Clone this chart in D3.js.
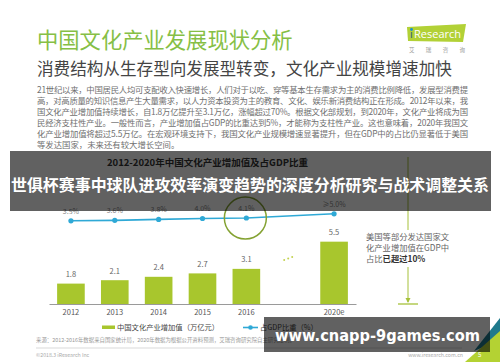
<!DOCTYPE html>
<html>
<head>
<meta charset="utf-8">
<script src="https://cdn.jsdelivr.net/npm/d3@7"></script>
<style>
  body { margin: 0; background: #fff; }
  svg { display: block; font-family: "Noto Sans CJK SC", "Noto Sans", sans-serif; }
</style>
</head>
<body>
<svg id="chart" width="500" height="362"></svg>
<script>

const years       = ['2012', '2013', '2014', '2015', '2016', '2020e'];
const gapSlot     = '…';
const addedValue  = [1.8, 2.1, 2.4, 2.7, 3.1, 5.5];
const gdpShare    = [3.5, 3.6, 3.8, 4.0, 4.1, 5.0];
const gdpLabels   = ['3.5%', '3.6%', '3.8%', '4.0%', '4.1%', '≥5.0%'];

const pageTitle   = '中国文化产业发展现状分析';
const pageSub     = '消费结构从生存型向发展型转变，文化产业规模增速加快';
const paragraph   = [
  '21世纪以来，中国居民人均可支配收入快速增长，人们对于以吃、穿等基本生存需求为主的消费比例降低，发展型消费提',
  '高，对高质量的知识信息产生大量需求，以人力资本投资为主的教育、文化、娱乐新消费结构正在形成。2012年以来，我',
  '国文化产业增加值持续增长，自1.8万亿提升至3.1万亿，涨幅超过70%。根据文化部规划，到2020年，文化产业将成为国',
  '民经济支柱性产业。一般性而言，产业增加值占GDP的比重达到5%，才能称为支柱性产业。这也意味着，2020年我国文',
  '化产业增加值将超过5.5万亿。在宏观环境支持下，我国文化产业规模增速显著提升，但在GDP中的占比仍显著低于美国',
  '等发达国家，未来还有较大增长空间。'
];
const chartTitle  = '2012-2020年中国文化产业增加值及占GDP比重';
const noteLines   = ['美国等部分发达国家文', '化产业增加值在GDP中', '占比'];
const noteBold    = '已超过10%';
const legendBar   = '中国文化产业增加值（万亿元）';
const legendLine  = '占GDP比重（%）';
const sourceText  = '来源：2012-2016年数据来自国家统计局，2020年数据为根据公开资料预测，艾瑞咨询研究院自主研究绘制。';
const overlayText = '世俱杯赛事中球队进攻效率演变趋势的深度分析研究与战术调整关系';
const overlayUrl  = 'www.cnapp-9games.com';

const GREEN = '#a8c62d';
const BLUE  = '#2fa9d6';

const svg = d3.select('#chart');

// header
svg.append('text').attr('x', 37).attr('y', 48)
  .attr('font-size', 21.3).attr('fill', '#86bf45').text(pageTitle);
svg.append('text').attr('x', 37).attr('y', 75)
  .attr('font-size', 16.6).attr('fill', '#444').text(pageSub);

// logo
const logo = svg.append('g');
logo.append('polygon').attr('points', '407,27 466,24 463,42 408,41').attr('fill', '#b2d136');
logo.append('circle').attr('cx', 411.5).attr('cy', 29.5).attr('r', 1.4).attr('fill', '#1a8fd0');
logo.append('text').attr('x', 410).attr('y', 38).attr('font-size', 11)
  .attr('font-family', 'Open Sans').attr('fill', '#2a5c8c').text('ı');
logo.append('text').attr('x', 414).attr('y', 38).attr('font-size', 11)
  .attr('font-family', 'Open Sans').attr('fill', '#fff').text('Research');
logo.append('text').attr('x', 409).attr('y', 52).attr('font-size', 5.5)
  .attr('fill', '#999').attr('textLength', 56).text('艾 瑞 咨 询');

// paragraph
svg.append('g').selectAll('text')
  .data(paragraph)
  .join('text')
  .attr('x', 37)
  .attr('y', (d, i) => 93 + i * 11)
  .attr('font-size', 8.4)
  .attr('fill', '#6f6f6f')
  .attr('textLength', (d, i) => i < paragraph.length - 1 ? 431 : null)
  .attr('lengthAdjust', 'spacing')
  .text(d => d);

// chart title
svg.append('text').attr('x', 107).attr('y', 165.5)
  .attr('font-size', 9.5).attr('font-weight', 'bold').attr('fill', '#333')
  .attr('textLength', 201).text(chartTitle);

// scales
const x = d3.scaleBand()
  .domain(years.slice(0, 5).concat([gapSlot], years.slice(5)))
  .range([49, 356])
  .paddingInner(0.37)
  .paddingOuter(0.185);

const yBar = d3.scaleLinear().domain([0, 6]).range([304, 236]);
const yPct = d3.scaleLinear().domain([0, 5]).range([237.2, 213.8]);

const cx = d => x(d) + x.bandwidth() / 2;

// bars
svg.append('g').selectAll('rect')
  .data(years)
  .join('rect')
  .attr('x', d => x(d))
  .attr('y', (d, i) => yBar(addedValue[i]))
  .attr('width', x.bandwidth())
  .attr('height', (d, i) => yBar(0) - yBar(addedValue[i]))
  .attr('fill', GREEN);

svg.append('g').selectAll('text')
  .data(years)
  .join('text')
  .attr('x', d => cx(d))
  .attr('y', (d, i) => yBar(addedValue[i]) - 6.5)
  .attr('text-anchor', 'middle')
  .attr('font-size', 7.5)
  .attr('fill', '#666')
  .text((d, i) => addedValue[i].toFixed(1));

// x axis
const xAxis = svg.append('g')
  .attr('transform', 'translate(0,304)')
  .call(d3.axisBottom(x).tickValues(years).tickSize(0).tickPadding(6));
xAxis.select('.domain').attr('stroke', '#9a9a9a').attr('stroke-width', 1);
xAxis.selectAll('text')
  .attr('font-family', '"Noto Sans CJK SC", sans-serif')
  .attr('font-size', 7.5)
  .attr('fill', '#555');

// dots in the gap
const gx = cx(gapSlot);
svg.append('g').selectAll('circle')
  .data([-1, 0, 1])
  .join('circle')
  .attr('cx', d => gx - 2 + d * 4)
  .attr('cy', d => 258.5 - d * 1.5)
  .attr('r', 1)
  .attr('fill', '#c3d24f');

// share line
const line = d3.line()
  .x((d, i) => cx(years[i]))
  .y(d => yPct(d));

svg.append('path')
  .datum(gdpShare)
  .attr('d', line)
  .attr('fill', 'none')
  .attr('stroke', BLUE)
  .attr('stroke-width', 1.6);

svg.append('g').selectAll('circle')
  .data(gdpShare)
  .join('circle')
  .attr('cx', (d, i) => cx(years[i]))
  .attr('cy', d => yPct(d))
  .attr('r', 2.6)
  .attr('fill', BLUE);

svg.append('g').selectAll('text')
  .data(gdpShare)
  .join('text')
  .attr('x', (d, i) => cx(years[i]))
  .attr('y', d => yPct(d) - 7)
  .attr('text-anchor', 'middle')
  .attr('font-size', 7)
  .attr('fill', '#888')
  .text((d, i) => gdpLabels[i]);

// highlight circle on 2016
svg.append('circle')
  .attr('cx', cx('2016') - 1)
  .attr('cy', yPct(gdpShare[4]))
  .attr('r', 21)
  .attr('fill', 'none')
  .attr('stroke', '#84a232')
  .attr('stroke-width', 1.5);

// annotation on the right
const note = svg.append('g');
note.append('line').attr('x1', 408).attr('x2', 408).attr('y1', 157).attr('y2', 230)
  .attr('stroke', '#a6c13a').attr('stroke-width', 1);
note.append('line').attr('x1', 408).attr('x2', 408).attr('y1', 267).attr('y2', 302)
  .attr('stroke', '#a6c13a').attr('stroke-width', 1);
note.append('polygon').attr('points', '405.5,298 410.5,298 408,303').attr('fill', '#a6c13a');
note.append('line').attr('x1', 398).attr('x2', 418).attr('y1', 304).attr('y2', 304)
  .attr('stroke', '#a6c13a').attr('stroke-width', 1.3);

const noteText = note.append('g').attr('font-size', 8.3).attr('fill', '#666');
noteLines.forEach((t, i) => {
  const tx = noteText.append('text').attr('x', 366).attr('y', 240 + i * 10.8).text(t);
  if (i === noteLines.length - 1) {
    tx.append('tspan').attr('font-weight', 'bold').attr('fill', '#333').text(noteBold);
  }
});

// legend
const legend = svg.append('g').attr('font-size', 7.3).attr('fill', '#444');
legend.append('rect').attr('x', 102).attr('y', 325.5).attr('width', 13).attr('height', 3.5).attr('fill', GREEN);
legend.append('text').attr('x', 117).attr('y', 330).text(legendBar);
legend.append('line').attr('x1', 243).attr('x2', 258).attr('y1', 327.5).attr('y2', 327.5)
  .attr('stroke', BLUE).attr('stroke-width', 1.6);
legend.append('circle').attr('cx', 250.5).attr('cy', 327.5).attr('r', 2.3).attr('fill', BLUE);
legend.append('text').attr('x', 260).attr('y', 330).text(legendLine);

// footer
svg.append('text').attr('x', 36).attr('y', 342).attr('font-size', 5.4).attr('fill', '#999').text(sourceText);
svg.append('line').attr('x1', 36).attr('x2', 462).attr('y1', 348).attr('y2', 348)
  .attr('stroke', '#cfcfcf').attr('stroke-width', 0.8);
svg.append('text').attr('x', 36).attr('y', 356.5).attr('font-size', 5.2).attr('fill', '#aaa').text('©2018.3 iResearch Inc');
svg.append('text').attr('x', 463).attr('y', 356.5).attr('text-anchor', 'end')
  .attr('font-size', 5.2).attr('fill', '#aaa').text('www.iresearch.com.cn');

// corner
svg.append('polygon').attr('points', '474,351 500,318 500,340').attr('fill', '#1f7a8c');
svg.append('polygon').attr('points', '465,362 500,331 500,362').attr('fill', '#b4d233');
svg.append('text').attr('x', 478).attr('y', 357).attr('font-size', 6).attr('fill', '#fff').text('5');

// overlay bands
svg.append('rect').attr('x', 10).attr('y', 151).attr('width', 481).attr('height', 60)
  .attr('fill', 'rgba(0,0,0,0.62)');
svg.append('text').attr('x', 11).attr('y', 191)
  .attr('font-size', 16).attr('font-weight', 'bold').attr('fill', '#fff')
  .attr('textLength', 478).attr('lengthAdjust', 'spacingAndGlyphs')
  .text(overlayText);

svg.append('rect').attr('x', 264).attr('y', 317).attr('width', 226).attr('height', 35)
  .attr('fill', 'rgba(0,0,0,0.62)');
svg.append('text').attr('x', 275).attr('y', 340.5)
  .attr('font-family', '"DejaVu Sans", sans-serif')
  .attr('font-size', 16).attr('font-weight', 'bold').attr('fill', '#fff')
  .attr('textLength', 205).attr('lengthAdjust', 'spacingAndGlyphs')
  .text(overlayUrl);

</script>
</body>
</html>
